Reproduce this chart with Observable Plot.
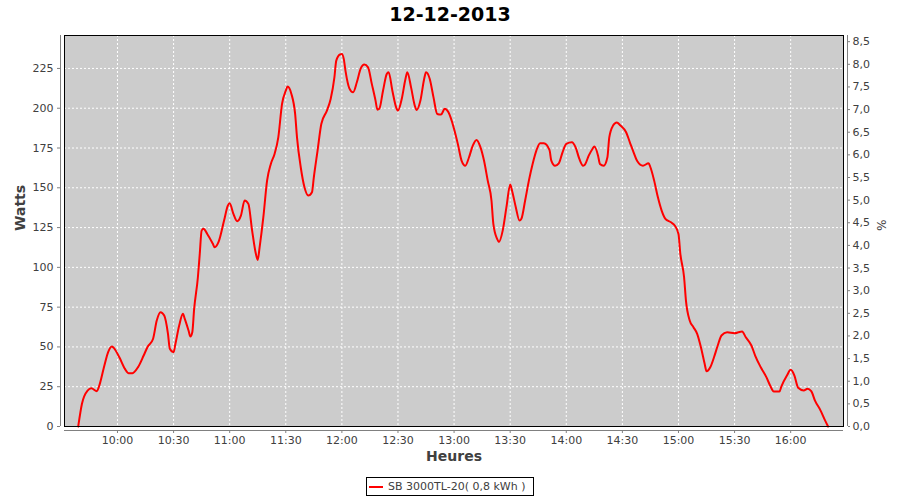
<!DOCTYPE html>
<html>
<head>
<meta charset="utf-8">
<script src="https://cdn.jsdelivr.net/npm/d3@7"></script>
<script src="https://cdn.jsdelivr.net/npm/@observablehq/plot@0.6"></script>
<style>
  html, body { margin: 0; padding: 0; background: #fff; }
  body { width: 900px; height: 500px; font-family: "DejaVu Sans", sans-serif; overflow: hidden; }
  #title { height: 28px; line-height: 28px; text-align: center; font-weight: bold; font-size: 19px; color: #000; width: 900px; }
  #legend { position: relative; height: 30px; width: 900px; }
  #legend .box { position: absolute; left: 366px; top: 7px; width: 168px; height: 19px; border: 1px solid #000; box-sizing: border-box; background: #fff; }
  #legend .swatch { position: absolute; left: 2px; top: 8px; width: 14px; height: 2px; background: #ff0000; }
  #legend .lbl { position: absolute; left: 21px; top: 0; line-height: 18px; font-size: 11px; color: #404040; white-space: nowrap; }
  svg { display: block; }
</style>
</head>
<body>
<div id="title">12-12-2013</div>
<div id="chart"></div>
<div id="legend"><div class="box"><div class="swatch"></div><div class="lbl" id="legendText"></div></div></div>
<script>
// ---- data ----
const chartTitle = "12-12-2013";
const seriesName = "SB 3000TL-20( 0,8 kWh )";
const times = [
  "09:39","09:41","09:44","09:46","09:49","09:50","09:53","09:55","09:57","09:58",
  "10:01","10:04","10:06","10:08","10:11","10:14","10:16","10:19","10:21","10:23",
  "10:25","10:27","10:28","10:30","10:31","10:33","10:35","10:36","10:38","10:39",
  "10:40","10:41","10:43","10:44","10:45","10:46","10:48","10:51","10:52","10:54",
  "10:57","10:59","11:00","11:02","11:04","11:06","11:08","11:10","11:12","11:14",
  "11:15","11:16","11:18","11:20","11:22","11:24","11:26","11:28","11:30","11:31",
  "11:33","11:35","11:36","11:38","11:40","11:42","11:44","11:45","11:47","11:49",
  "11:52","11:54","11:56","11:57","11:59","12:00","12:01","12:02","12:04","12:06",
  "12:08","12:10","12:12","12:14","12:16","12:18","12:19","12:20","12:22","12:24",
  "12:25","12:27","12:29","12:30","12:32","12:34","12:35","12:37","12:39","12:40",
  "12:42","12:44","12:45","12:47","12:49","12:51","12:53","12:55","12:57","13:00",
  "13:02","13:04","13:06","13:08","13:10","13:12","13:14","13:16","13:18","13:20",
  "13:21","13:23","13:24","13:26","13:28","13:30","13:31","13:33","13:35","13:36",
  "13:38","13:40","13:42","13:44","13:46","13:48","13:51","13:52","13:54","13:56",
  "13:58","14:00","14:03","14:05","14:07","14:09","14:10","14:12","14:14","14:15",
  "14:17","14:18","14:20","14:22","14:23","14:25","14:27","14:29","14:32","14:34",
  "14:36","14:38","14:41","14:44","14:45","14:47","14:49","14:51","14:53","14:56",
  "14:58","15:00","15:01","15:03","15:04","15:06","15:08","15:10","15:12","15:14",
  "15:15","15:17","15:19","15:21","15:23","15:26","15:30","15:32","15:34","15:36",
  "15:39","15:41","15:44","15:47","15:49","15:51","15:54","15:55","15:58","16:00",
  "16:02","16:04","16:07","16:09","16:11","16:13","16:16","16:18","16:20"
];
const watts = [
  0,14.3,22.6,24,22.2,24.7,38.3,46.7,50.3,49.4,
  43.5,36.2,33.5,33.5,37.3,44.6,49.8,55,66.6,71.8,
  69.7,58.2,48.8,46.7,52,63.4,70.8,67.6,60.3,56.5,
  59.2,73.9,93.8,108.5,123.1,124.2,121,114.8,112.6,115.8,
  129.4,138.8,140.3,133.6,129,132.5,142,139.9,123.1,108.5,
  104.7,112.6,131.5,154.5,165,171.3,181.7,202.7,211,213.6,
  209,196.4,181.7,162.9,150.3,145.1,147.2,156.6,173.4,190.1,
  198.5,205.8,219.4,229.9,233.8,234,231,223,212.5,210,
  216.3,224.7,227.4,225.7,215.3,204.8,199.1,199.6,211,221.5,
  222.6,211,200.6,198.5,205.8,218.4,222.6,213.1,201.6,198.9,
  204.8,218.4,222.6,218.4,206.8,196.4,196,199.6,197.4,187,
  177.6,167.1,163.9,169.2,176.5,180.1,175.9,167.1,154.5,142,
  127.3,117.9,116,123.1,137.8,152,148.2,137.8,129.4,130.5,
  142,154.5,165,173.4,178,178,173.8,167.1,163.9,165.4,
  172.3,177.6,178.6,175.4,168.1,163.9,164.6,170.2,174.4,175.9,
  170.2,165,163.9,169.2,181.7,189.1,191.1,189.1,184.9,178.6,
  172.3,166.7,163.9,165.4,162.9,154.5,144,135.7,130.5,128.3,
  126.3,121,108.5,93.8,79.1,66.6,62.4,58.2,49.8,39.4,
  34.7,37.2,43.5,50.9,57.2,59.2,58.6,59.2,59.7,56.1,
  50.9,44.6,37.2,31,25.8,22,22,25.1,32,35.6,
  32,24.3,22.6,23.7,22.2,16.3,10,4.8,0
];
const xTickLabels = ["10:00","10:30","11:00","11:30","12:00","12:30","13:00","13:30","14:00","14:30","15:00","15:30","16:00"];
const wattTicks = [0,25,50,75,100,125,150,175,200,225];
const pctTicks = [0,0.5,1,1.5,2,2.5,3,3.5,4,4.5,5,5.5,6,6.5,7,7.5,8,8.5];
const xStart = "09:31:40", xEnd = "16:28:15";
const wattsTop = 245.7;      // top of the left axis
const wattsPerPct = 28.45;   // right axis: 1 % = 28.45 W

// ---- build ----
function parseT(s) {
  const [h, m, sec] = s.split(":").map(Number);
  return new Date(Date.UTC(2013, 11, 12, h, m, sec || 0));
}
const data = times.map((t, i) => ({t: parseT(t), w: watts[i]}));
const xTicks = xTickLabels.map(parseT);
const fmt = d3.utcFormat("%H:%M");
document.getElementById("title").textContent = chartTitle;
document.getElementById("legendText").textContent = seriesName;

const axisGray = "#808080";
const textGray = "#404040";
const grid = {stroke: "white", strokeOpacity: 1, strokeWidth: 1, strokeDasharray: "2,2"};

const chart = Plot.plot({
  width: 900,
  height: 442,
  marginTop: 7,
  marginBottom: 44,
  marginLeft: 64,
  marginRight: 57,
  style: {fontFamily: "DejaVu Sans, sans-serif", fontSize: "11px", color: textGray, background: "white", overflow: "visible"},
  x: {type: "utc", domain: [parseT(xStart), parseT(xEnd)]},
  y: {domain: [0, wattsTop]},
  marks: [
    Plot.frame({fill: "#cccccc", stroke: null}),
    Plot.gridX({ticks: xTicks, ...grid}),
    Plot.gridY({ticks: wattTicks.filter(d => d > 0), ...grid}),
    Plot.line(data, {x: "t", y: "w", stroke: "#ff0000", strokeWidth: 2, curve: "monotone-x"}),
    Plot.frame({stroke: "#000", strokeWidth: 1}),
    // axis lines offset from the plot border
    Plot.ruleX([parseT(xStart)], {dx: -4, stroke: axisGray}),
    Plot.ruleX([parseT(xEnd)], {dx: 4, stroke: axisGray}),
    Plot.ruleY([0], {dy: 4, stroke: axisGray}),
    Plot.axisX({ticks: xTicks, tickFormat: fmt, tickSize: 3, dy: 4, tickPadding: 3, stroke: axisGray, fill: textGray, label: null}),
    Plot.axisY({ticks: wattTicks, tickSize: 3, dx: -4, tickPadding: 4, stroke: axisGray, fill: textGray, label: null}),
    Plot.axisY({anchor: "right", ticks: pctTicks.map(p => p * wattsPerPct),
      tickFormat: d => (d / wattsPerPct).toFixed(1).replace(".", ","),
      tickSize: 2, dx: 4, tickPadding: 3, stroke: axisGray, fill: textGray, label: null}),
    Plot.text(["Watts"], {frameAnchor: "left", dx: -44, rotate: -90, fontSize: 14, fontWeight: "bold", fill: textGray}),
    Plot.text(["Heures"], {frameAnchor: "bottom", dy: 34, fontSize: 14, fontWeight: "bold", fill: textGray}),
    Plot.text(["%"], {frameAnchor: "right", dx: 37, rotate: 90, fontSize: 12, fill: textGray})
  ]
});
document.getElementById("chart").appendChild(chart);
</script>
</body>
</html>
